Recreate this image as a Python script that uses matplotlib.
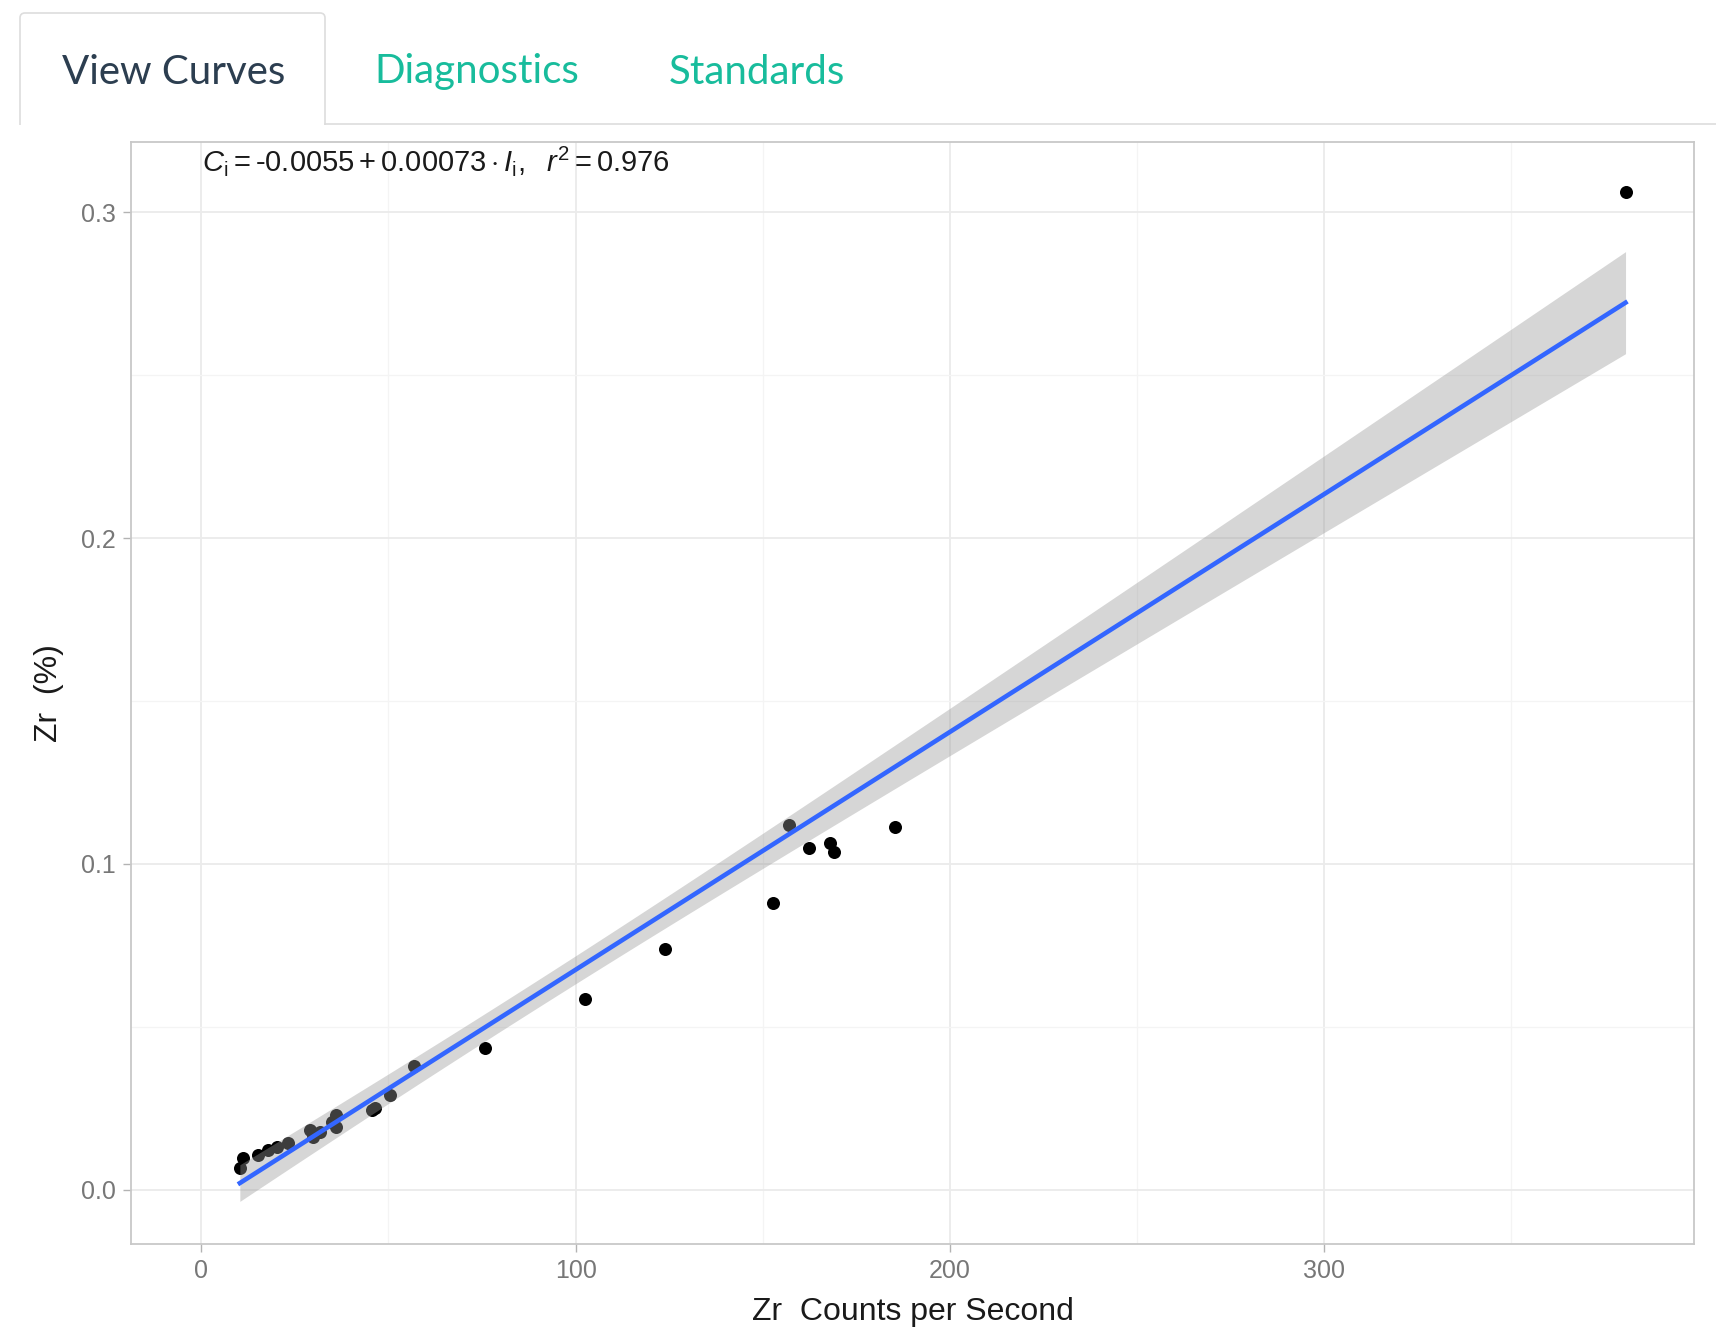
import numpy as np
import matplotlib.pyplot as plt
from matplotlib.patches import FancyBboxPatch, Rectangle
from matplotlib.lines import Line2D

plt.rcParams['font.family'] = ['Liberation Sans', 'DejaVu Sans']
plt.rcParams['mathtext.fontset'] = 'custom'
plt.rcParams['mathtext.rm'] = 'Liberation Sans'
plt.rcParams['mathtext.it'] = 'Liberation Sans:italic'

# Zr standards: measured count rate vs certified concentration
cps = [10.3, 11.2, 15.2, 17.9, 20.1, 23.2, 29.0, 29.9, 31.6, 34.8, 36.1, 36.1,
       45.5, 46.4, 50.4, 56.7, 75.8, 102.5, 124.0, 152.8, 157.1, 162.3, 167.9,
       169.1, 185.3, 380.5]
zr_pct = [0.0065, 0.0096, 0.0106, 0.0122, 0.0132, 0.0142, 0.0183, 0.0162, 0.0178,
          0.0208, 0.0229, 0.0193, 0.0245, 0.0252, 0.0290, 0.0380, 0.0434, 0.0585,
          0.0739, 0.0879, 0.1119, 0.1050, 0.1065, 0.1037, 0.1114, 0.3062]

# calibration line as reported
intercept = -0.0055
slope = 0.00073
r_squared = 0.976

x_ticks = [0, 100, 200, 300]
y_ticks = [0.0, 0.1, 0.2, 0.3]
tab_labels = ['View Curves', 'Diagnostics', 'Standards']

x = np.array(cps)
y = np.array(zr_pct)
n = len(x)

# 95% confidence band, lm style (residual sd from the least squares fit)
b1, b0 = np.polyfit(x, y, 1)
resid = y - (b0 + b1 * x)
sigma = np.sqrt(np.sum(resid ** 2) / (n - 2))
sxx = np.sum((x - x.mean()) ** 2)
t_crit = 2.064
xs = np.linspace(x.min(), x.max(), 200)
fit = intercept + slope * xs
half = t_crit * sigma * np.sqrt(1 / n + (xs - x.mean()) ** 2 / sxx)

W, H = 17.16, 13.39
fig = plt.figure(figsize=(W, H), dpi=100)
fig.patch.set_facecolor('white')

# --- tab bar on top ---
tr = fig.dpi_scale_trans
tab = FancyBboxPatch((0.20, (1339 - 132) / 100), 3.05, (132 - 13) / 100,
                     boxstyle='round,pad=0,rounding_size=0.05',
                     transform=tr, facecolor='white', edgecolor='#dddddd', lw=1.2)
fig.add_artist(tab)
fig.add_artist(Rectangle((0.15, (1339 - 138) / 100), 3.2, (138 - 124.5) / 100,
                         transform=tr, facecolor='white', edgecolor='none', zorder=2))
fig.add_artist(Line2D([3.25, W], [(1339 - 124) / 100] * 2, transform=tr,
                      color='#dddddd', lw=1.2, zorder=3))

tab_x = [62, 374, 669]
tab_colors = ['#2c3e50', '#18bc9c', '#18bc9c']
for lbl, tx, c in zip(tab_labels, tab_x, tab_colors):
    fig.text(tx / 1716, 1 - 72 / 1339, lbl, fontfamily='Lato', fontsize=29,
             color=c, va='center', ha='left')

# --- calibration plot ---
ax = fig.add_axes([0.0763, 0.0709, 0.9109, 0.8231])
ax.set_xlim(-18.8, 398.8)
ax.set_ylim(-0.0167, 0.3216)

ax.scatter(x, y, s=88, color='black', linewidths=0, zorder=2)
ax.fill_between(xs, fit - half, fit + half, color='#999999', alpha=0.4, lw=0, zorder=3)
ax.plot(xs, fit, color='#3366ff', lw=3.3, zorder=4)

ax.set_xticks(x_ticks)
ax.set_yticks(y_ticks)
ax.set_xticklabels([str(t) for t in x_ticks])
ax.set_yticklabels([f'{t:.1f}' for t in y_ticks])
ax.set_xticks([50, 150, 250, 350], minor=True)
ax.set_yticks([0.05, 0.15, 0.25], minor=True)
ax.grid(which='major', color='#ebebeb', lw=1.3)
ax.grid(which='minor', color='#f4f4f4', lw=0.9)
ax.set_axisbelow(True)
ax.tick_params(which='minor', length=0)
ax.tick_params(which='major', length=6, width=1, color='#b3b3b3',
               labelsize=18, labelcolor='#777777', pad=5)
for sp in ax.spines.values():
    sp.set_color('#c8c8c8')
    sp.set_linewidth(1.3)

ax.set_xlabel('Zr  Counts per Second', fontsize=23, color='#1a1a1a', labelpad=10)
ax.set_ylabel('Zr  (%)', fontsize=23, color='#1a1a1a', labelpad=12)

eq = (r'$C_{\mathrm{i}} = \text{' + f'{intercept}' + r'} + ' + f'{slope:.5f}'
      + r' \cdot I_{\mathrm{i}},\ \ r^2 = ' + f'{r_squared}' + '$')
ax.text(0.0454, 0.998, eq, transform=ax.transAxes, fontsize=21,
        color='#1a1a1a', ha='left', va='top')

fig.savefig('out.png', dpi=100)
